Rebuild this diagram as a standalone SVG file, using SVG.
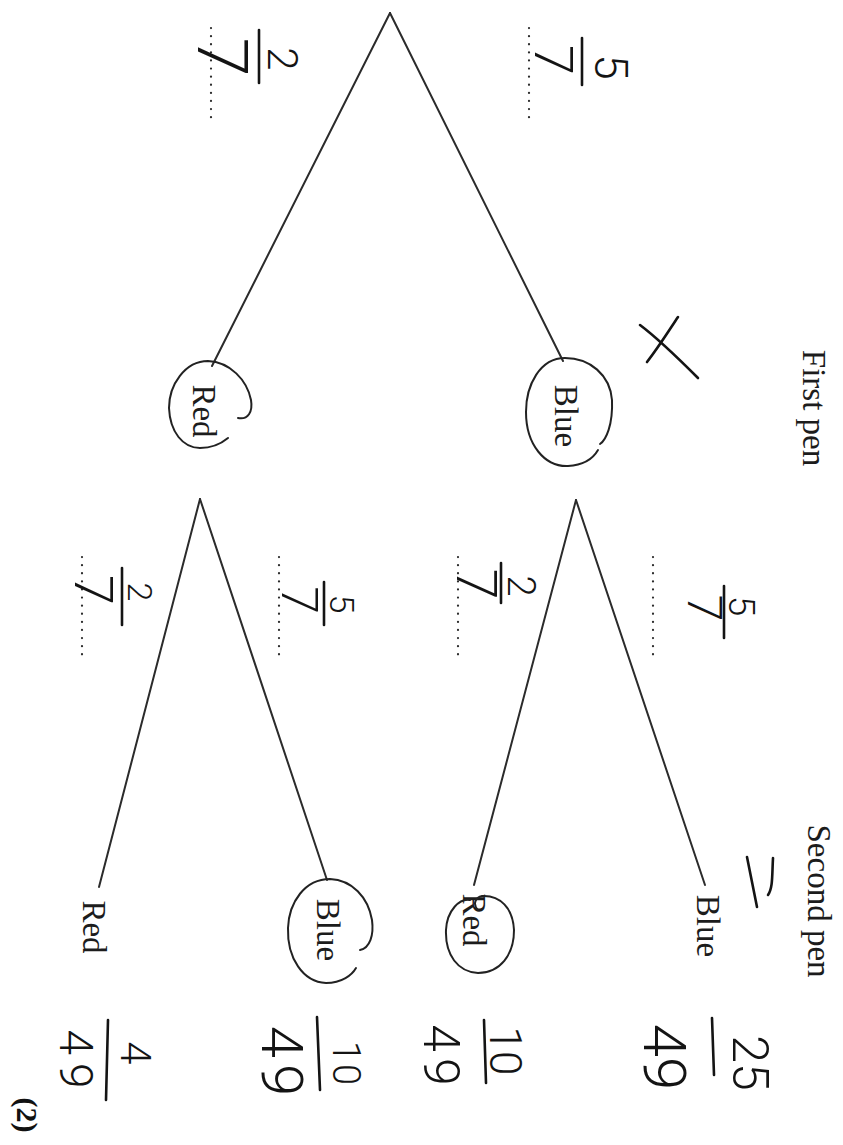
<svg xmlns="http://www.w3.org/2000/svg" width="843" height="1145" viewBox="0 0 843 1145">
  <style>
    .ln { stroke: #2b2b2b; stroke-width: 2; fill: none; stroke-linecap: round; }
    .dot { stroke: #2b2b2b; stroke-width: 2.2; fill: none; stroke-dasharray: 0.1 8; stroke-linecap: round; }
    .lbl { font-family: "Liberation Serif", "Times New Roman", serif; font-size: 33px; fill: #1c1c1c; text-anchor: middle; }
    .hw { font-family: Roboto, "Open Sans", "DejaVu Sans", sans-serif; font-weight: 300; fill: #141414; text-anchor: middle; }
    .pen { stroke: #141414; stroke-width: 2.6; fill: none; stroke-linecap: round; stroke-linejoin: round; }
    .loop { stroke: #222; stroke-width: 2; fill: none; stroke-linecap: round; }
  </style>
  <rect width="843" height="1145" fill="#ffffff"/>

  <!-- branches of the tree -->
  <g id="connectors">
    <line class="ln" x1="390" y1="13" x2="563" y2="361"/>
    <line class="ln" x1="390" y1="13" x2="212" y2="366"/>
    <line class="ln" x1="576" y1="500" x2="474" y2="885"/>
    <line class="ln" x1="576" y1="500" x2="705" y2="885"/>
    <line class="ln" x1="200" y1="499" x2="99" y2="887"/>
    <line class="ln" x1="200" y1="499" x2="327" y2="880"/>
  </g>

  <!-- answer blanks -->
  <g id="blanks">
    <line class="dot" x1="211" y1="28" x2="211" y2="125"/>
    <line class="dot" x1="529" y1="28" x2="529" y2="125"/>
    <line class="dot" x1="458" y1="557" x2="458" y2="657"/>
    <line class="dot" x1="653" y1="557" x2="653" y2="657"/>
    <line class="dot" x1="82" y1="557" x2="82" y2="657"/>
    <line class="dot" x1="279" y1="557" x2="279" y2="657"/>
  </g>

  <!-- column headings -->
  <g id="heading-first">
    <text class="lbl" transform="translate(803,408) rotate(90)">First pen</text>
  </g>
  <g id="heading-second">
    <text class="lbl" transform="translate(808,901) rotate(90)">Second pen</text>
  </g>

  <!-- first pen outcomes -->
  <g id="node-blue-1">
    <text class="lbl" transform="translate(555,416) rotate(90)">Blue</text>
    <path class="loop" d="M600,444 C606,440 613,425 612,400 C610,375 590,358 565,358 C540,358 526,385 526,412 C526,445 545,467 568,466 C585,465 594,457 598,450"/>
  </g>
  <g id="node-red-1">
    <text class="lbl" transform="translate(193,411) rotate(90)">Red</text>
    <path class="loop" d="M238,418 C248,420 253,412 251,400 C247,380 230,362 208,361 C185,361 169,385 169,408 C170,432 183,448 200,448 C212,448 222,443 228,438"/>
  </g>

  <!-- second pen outcomes -->
  <g id="node-blue-blue">
    <text class="lbl" transform="translate(697,926) rotate(90)">Blue</text>
  </g>
  <g id="node-blue-red">
    <text class="lbl" transform="translate(463,920) rotate(90)">Red</text>
    <path class="loop" d="M470,900 C460,898 447,910 446,930 C445,955 458,972 478,973 C500,973 514,955 514,930 C513,908 500,895 482,896 C476,897 472,904 478,910"/>
  </g>
  <g id="node-red-blue">
    <text class="lbl" transform="translate(317,930) rotate(90)">Blue</text>
    <path class="loop" d="M360,950 C370,948 374,935 372,920 C368,897 352,880 330,879 C305,879 289,902 288,928 C287,958 303,982 326,983 C342,983 352,975 356,968"/>
  </g>
  <g id="node-red-red">
    <text class="lbl" transform="translate(83,927) rotate(90)">Red</text>
  </g>

  <!-- handwritten probabilities on the branches -->
  <g id="p-first-red">
    <line class="pen" x1="259" y1="30" x2="259" y2="83"/>
    <text class="hw" font-size="42" transform="translate(268,59) rotate(90)">2</text>
    <text class="hw" font-size="70" transform="translate(198,57) rotate(90)">7</text>
  </g>
  <g id="p-first-blue">
    <line class="pen" x1="582" y1="38" x2="582" y2="85"/>
    <text class="hw" font-size="46" transform="translate(595,67) rotate(90)">5</text>
    <text class="hw" font-size="54" transform="translate(535,60) rotate(90)">7</text>
  </g>
  <g id="p-blue-red">
    <line class="pen" x1="501" y1="563" x2="501" y2="603"/>
    <text class="hw" font-size="38" transform="translate(508,586) rotate(90)">2</text>
    <text class="hw" font-size="56" transform="translate(457,584) rotate(90)">7</text>
  </g>
  <g id="p-blue-blue">
    <line class="pen" x1="724" y1="586" x2="724" y2="638"/>
    <text class="hw" font-size="37" transform="translate(729,606) rotate(90)">5</text>
    <text class="hw" font-size="48" transform="translate(688,608) rotate(90)">7</text>
  </g>
  <g id="p-red-red">
    <line class="pen" x1="122" y1="568" x2="122" y2="625"/>
    <text class="hw" font-size="34" transform="translate(128,592) rotate(90)">2</text>
    <text class="hw" font-size="54" transform="translate(75,590) rotate(90)">7</text>
  </g>
  <g id="p-red-blue">
    <line class="pen" x1="324" y1="582" x2="324" y2="625"/>
    <text class="hw" font-size="34" transform="translate(330,604) rotate(90)">5</text>
    <text class="hw" font-size="50" transform="translate(282,600) rotate(90)">7</text>
  </g>

  <!-- outcome probabilities -->
  <g id="r-blue-blue">
    <line class="pen" x1="712" y1="1018" x2="714" y2="1075"/>
    <text class="hw" font-size="50" transform="translate(733,1063) rotate(90)">25</text>
    <text class="hw" font-size="60" transform="translate(644,1057) rotate(90)">49</text>
  </g>
  <g id="r-blue-red">
    <line class="pen" x1="484" y1="1020" x2="486" y2="1083"/>
    <text class="hw" font-size="44" transform="translate(490,1051) rotate(90)">10</text>
    <text class="hw" font-size="50" letter-spacing="6" transform="translate(424,1058) rotate(90)">49</text>
  </g>
  <g id="r-red-blue">
    <line class="pen" x1="317" y1="1017" x2="320" y2="1090"/>
    <text class="hw" font-size="38" letter-spacing="2" transform="translate(333,1064) rotate(90)">10</text>
    <text class="hw" font-size="58" letter-spacing="6" transform="translate(262,1064) rotate(90)">49</text>
  </g>
  <g id="r-red-red">
    <line class="pen" x1="108" y1="1020" x2="106" y2="1100"/>
    <text class="hw" font-size="42" transform="translate(121,1053) rotate(90)">4</text>
    <text class="hw" font-size="46" letter-spacing="8" transform="translate(60,1063) rotate(90)">49</text>
  </g>

  <!-- marks by the headings -->
  <g id="mark-cross">
    <path class="pen" d="M640,325 C660,340 680,360 698,378"/>
    <path class="pen" d="M647,362 C658,348 668,332 678,317"/>
  </g>
  <g id="mark-equals">
    <path class="pen" d="M747,857 L757,907"/>
    <path class="pen" d="M773,858 C772,875 773,888 768,895"/>
  </g>

  <!-- marks total -->
  <g id="marks">
    <text transform="translate(17,1115) rotate(90)" text-anchor="middle" font-family="Liberation Serif, serif" font-weight="bold" font-size="30" fill="#111">(2)</text>
  </g>
</svg>
